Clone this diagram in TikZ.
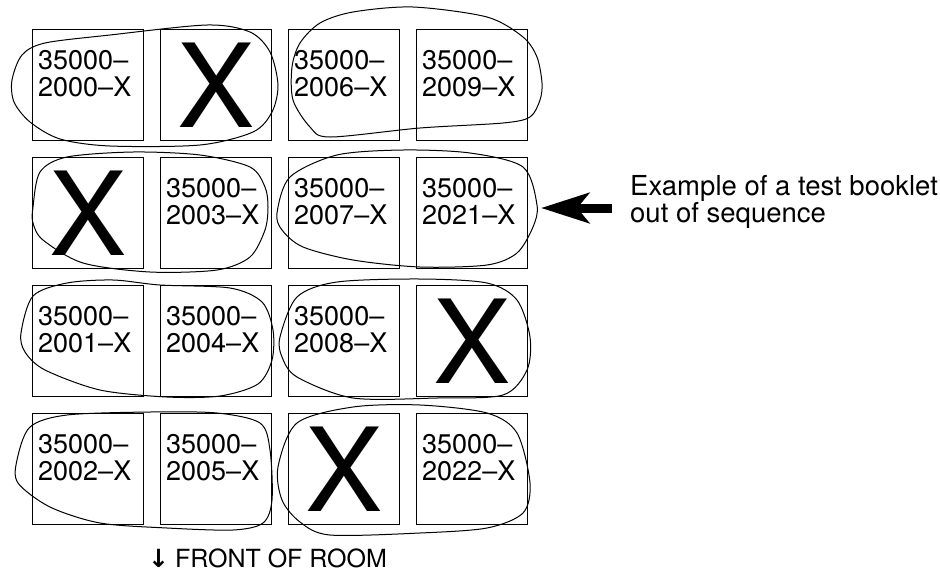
\documentclass[tikz,border=0pt]{standalone}
\usepackage{fontspec}
\setmainfont{TeX Gyre Heros}
\newfontfamily\arrowfont{DejaVu Sans}
\usetikzlibrary{arrows.meta}
\begin{document}
\begin{tikzpicture}
			[x=1pt,y=-1pt,
			seat/.style={draw,line width=1.1pt,minimum width=111pt,minimum height=111pt,inner sep=0pt,anchor=north west,font=\fontsize{116}{116}\selectfont},
			num/.style={anchor=north west,inner sep=0pt,align=left,xshift=6pt,yshift=-21pt,font=\fontsize{27}{27}\selectfont},
			ring/.style={line width=1pt}]
			\useasboundingbox (0,0) rectangle (940,587);
			\node[seat] (s11) at (32,29) {};
			\node[seat] (s12) at (160,29) {X};
			\node[seat] (s13) at (288,29) {};
			\node[seat] (s14) at (416,29) {};
			\node[seat] (s21) at (32,157) {X};
			\node[seat] (s22) at (160,157) {};
			\node[seat] (s23) at (288,157) {};
			\node[seat] (s24) at (416,157) {};
			\node[seat] (s31) at (32,285) {};
			\node[seat] (s32) at (160,285) {};
			\node[seat] (s33) at (288,285) {};
			\node[seat] (s34) at (416,285) {X};
			\node[seat] (s41) at (32,413) {};
			\node[seat] (s42) at (160,413) {};
			\node[seat] (s43) at (288,413) {X};
			\node[seat] (s44) at (416,413) {};
			\node[num] (n11) at (s11.north west) {35000–\\2000–X};
			\node[num] (n13) at (s13.north west) {35000–\\2006–X};
			\node[num] (n14) at (s14.north west) {35000–\\2009–X};
			\node[num] (n22) at (s22.north west) {35000–\\2003–X};
			\node[num] (n23) at (s23.north west) {35000–\\2007–X};
			\node[num] (n24) at (s24.north west) {35000–\\2021–X};
			\node[num] (n31) at (s31.north west) {35000–\\2001–X};
			\node[num] (n32) at (s32.north west) {35000–\\2004–X};
			\node[num] (n33) at (s33.north west) {35000–\\2008–X};
			\node[num] (n41) at (s41.north west) {35000–\\2002–X};
			\node[num] (n42) at (s42.north west) {35000–\\2005–X};
			\node[num] (n44) at (s44.north west) {35000–\\2022–X};
			\draw[ring] plot[smooth cycle] coordinates {(12,80) (22,55) (45,43) (110,35) (207,25) (250,32) (270,52) (278,85) (272,112) (253,132) (200,145) (110,146) (60,139) (30,122) (14,102)};
			\draw[ring] plot[smooth cycle] coordinates {(292,67) (300,43) (320,23) (353,12) (413,7) (487,17) (523,37) (537,57) (542,83) (540,100) (530,117) (503,123) (420,128) (330,137) (310,127) (293,100)};
			\draw[ring] plot[smooth cycle] coordinates {(33,207) (40,172) (67,157) (133,152) (200,155) (250,167) (265,187) (268,207) (265,230) (250,257) (217,270) (150,272) (83,263) (43,240) (33,223)};
			\draw[ring] plot[smooth cycle] coordinates {(277,213) (290,177) (337,155) (403,150) (470,153) (523,167) (537,205) (533,227) (517,253) (487,265) (420,267) (353,260) (303,247) (282,230)};
			\draw[ring] plot[smooth cycle] coordinates {(21,333) (33,296) (67,283) (113,280) (160,285) (230,288) (262,302) (273,330) (272,360) (258,384) (220,396) (167,397) (100,390) (45,370) (25,352)};
			\draw[ring] plot[smooth cycle] coordinates {(280,337) (297,297) (337,282) (420,279) (487,283) (517,300) (530,337) (527,370) (503,395) (437,398) (353,398) (297,377) (282,357)};
			\draw[ring] plot[smooth cycle] coordinates {(17,460) (30,427) (67,415) (150,412) (217,413) (260,423) (270,450) (272,500) (263,523) (233,530) (167,528) (100,523) (50,507) (18,483)};
			\draw[ring] plot[smooth cycle] coordinates {(278,467) (297,423) (353,407) (420,405) (487,413) (517,433) (530,483) (523,513) (487,528) (420,533) (330,535) (300,522) (282,500)};
			\node[anchor=north west,inner sep=0pt,align=left,font=\fontsize{27.5}{26}\selectfont] (note) at (630,175) {Example of a test booklet\\out of sequence};
			\coordinate (tail) at (612,208);
			\coordinate (tip) at (541,208);
			\draw[line width=9pt,-{Stealth[length=48pt,width=30pt,inset=12pt]}] (tail) -- (tip);
			\node[anchor=base west,inner sep=0pt,font=\fontsize{25}{25}\selectfont] (front) at (148,567) {{\arrowfont\bfseries ↓}\hspace{6pt}FRONT OF ROOM};
		\end{tikzpicture}
\end{document}
